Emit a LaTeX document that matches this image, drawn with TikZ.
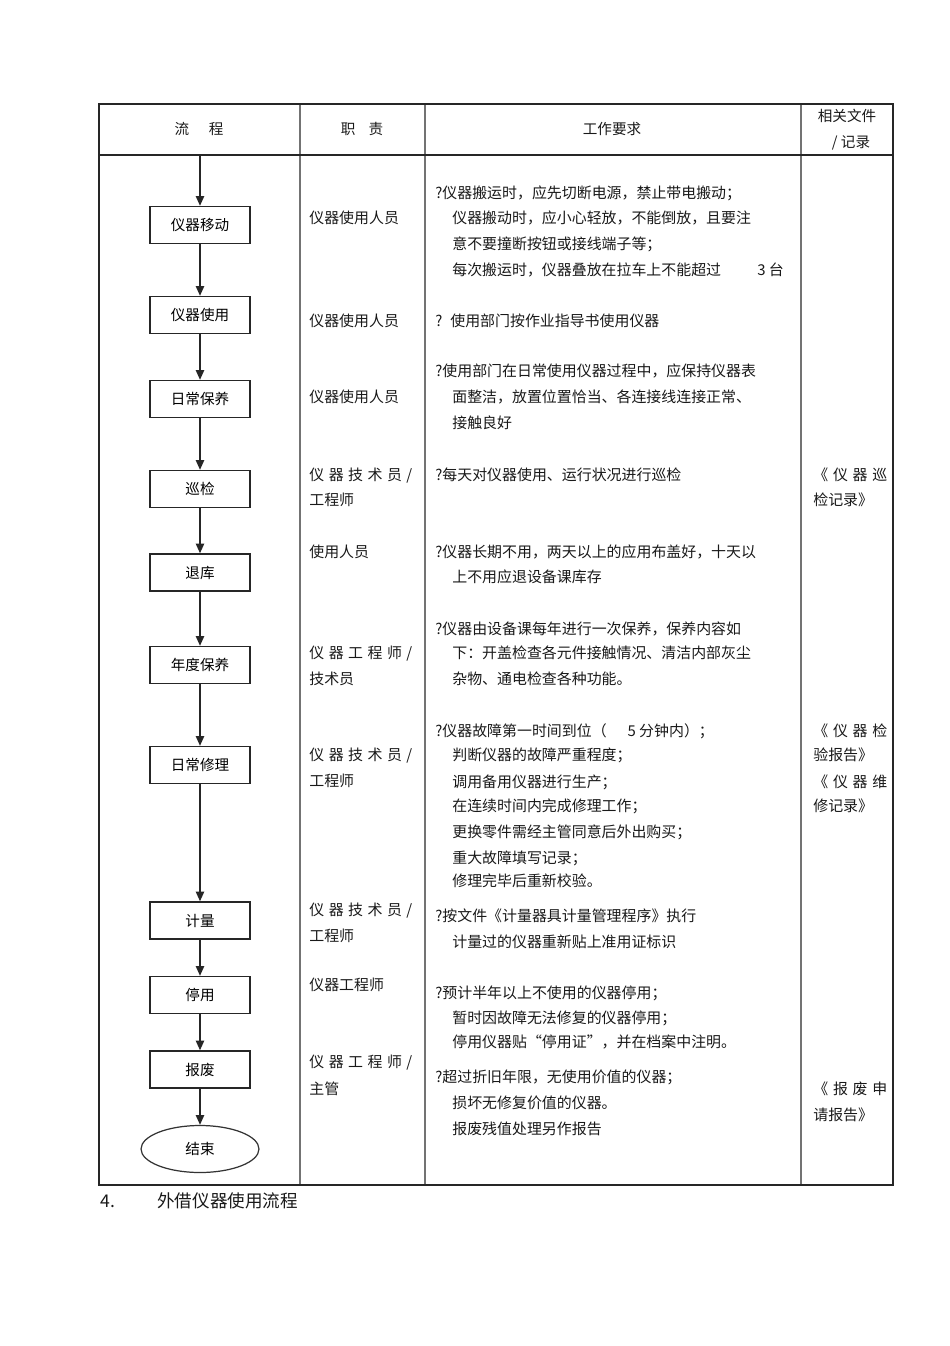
\documentclass[tikz,border=0pt]{standalone}
\usepackage{fontspec}
\setmainfont{Noto Sans CJK SC}
\usetikzlibrary{shapes.geometric, arrows.meta, positioning}
\tikzset{
    box_step/.style={
        rectangle, draw=black!85, line width=0.7pt, fill=white,
        minimum width=2.0cm, minimum height=0.74cm, inner sep=0pt,
        align=center, font=\fontsize{8.3}{10}\selectfont
    },
    box_end/.style={
        ellipse, draw=black!80, line width=0.7pt, fill=white,
        minimum width=2.36cm, minimum height=0.94cm, inner sep=0pt,
        align=center, font=\fontsize{8.3}{10}\selectfont
    },
    flow_arrow/.style={
        -{Triangle[length=5.5pt, width=4.6pt]}, draw=black!85, line width=1.0pt
    },
    grid_line/.style={
        draw=black!85, line width=0.75pt
    },
    grid_inner/.style={
        draw=black!55, line width=0.9pt
    },
    lbl/.style={
        anchor=west, inner sep=0pt, text height=1.6ex, text depth=0.4ex,
        font=\fontsize{8.5}{10}\selectfont, text=black!90
    },
    head_lbl/.style={
        inner sep=0pt, text height=1.6ex, text depth=0.4ex,
        font=\fontsize{8.3}{10}\selectfont, text=black!90
    }
}

\begin{document}
\begin{tikzpicture}[x=0.02cm, y=-0.02cm]
    \useasboundingbox (0,0) rectangle (950,1346);

    % Table frame
    \draw[grid_inner] (300,104) -- (300,1185);
    \draw[grid_inner] (425,104) -- (425,1185);
    \draw[grid_inner] (801,104) -- (801,1185);
    \draw[grid_line] (99,104) rectangle (893,1185);
    \draw[grid_line] (99,155) -- (893,155);

    % Header
    \node[head_lbl] (h_flow) at (199,129) {流\hspace{1.35em}程};
    \node[head_lbl] (h_duty) at (362,129) {职\hspace{0.9em}责};
    \node[head_lbl] (h_req) at (612,129) {工作要求};
    \node[head_lbl] (h_doc) at (847,116) {相关文件};
    \node[head_lbl] (h_rec) at (851,142) {/ 记录};

    % Flow column
    \coordinate (start) at (200,155);
    \node[box_step] (move) at (200,225) {仪器移动};
    \node[box_step] (use) at (200,315) {仪器使用};
    \node[box_step] (daily) at (200,399) {日常保养};
    \node[box_step] (patrol) at (200,489) {巡检};
    \node[box_step] (store) at (200,572.5) {退库};
    \node[box_step] (yearly) at (200,665) {年度保养};
    \node[box_step] (repair) at (200,765) {日常修理};
    \node[box_step] (metro) at (200,920.5) {计量};
    \node[box_step] (stop) at (200,995) {停用};
    \node[box_step] (scrap) at (200,1069.5) {报废};
    \node[box_end] (finish) at (200,1149) {结束};

    % Connectors
    \draw[flow_arrow] (start) -- (move);
    \draw[flow_arrow] (move) -- (use);
    \draw[flow_arrow] (use) -- (daily);
    \draw[flow_arrow] (daily) -- (patrol);
    \draw[flow_arrow] (patrol) -- (store);
    \draw[flow_arrow] (store) -- (yearly);
    \draw[flow_arrow] (yearly) -- (repair);
    \draw[flow_arrow] (repair) -- (metro);
    \draw[flow_arrow] (metro) -- (stop);
    \draw[flow_arrow] (stop) -- (scrap);
    \draw[flow_arrow] (scrap) -- (finish);

    % Duty column
    \node[lbl] (duty_move) at (309,218) {仪器使用人员};
    \node[lbl] (duty_use) at (309,321) {仪器使用人员};
    \node[lbl] (duty_daily) at (309,397) {仪器使用人员};
    \node[lbl] (duty_patrol_a) at (309,475) {\makebox[2.06cm][s]{仪 器 技 术 员 /}};
    \node[lbl] (duty_patrol_b) at (309,500) {工程师};
    \node[lbl] (duty_store) at (309,552) {使用人员};
    \node[lbl] (duty_yearly_a) at (309,653) {\makebox[2.06cm][s]{仪 器 工 程 师 /}};
    \node[lbl] (duty_yearly_b) at (309,679) {技术员};
    \node[lbl] (duty_repair_a) at (309,755) {\makebox[2.06cm][s]{仪 器 技 术 员 /}};
    \node[lbl] (duty_repair_b) at (309,781) {工程师};
    \node[lbl] (duty_metro_a) at (309,910) {\makebox[2.06cm][s]{仪 器 技 术 员 /}};
    \node[lbl] (duty_metro_b) at (309,936) {工程师};
    \node[lbl] (duty_stop) at (309,985) {仪器工程师};
    \node[lbl] (duty_scrap_a) at (309,1062) {\makebox[2.06cm][s]{仪 器 工 程 师 /}};
    \node[lbl] (duty_scrap_b) at (309,1089) {主管};

    % Requirement column
    \node[lbl] (req_move_a) at (435,193) {?仪器搬运时，应先切断电源，禁止带电搬动；};
    \node[lbl] (req_move_b) at (452,218) {仪器搬动时，应小心轻放，不能倒放，且要注};
    \node[lbl] (req_move_c) at (452,244) {意不要撞断按钮或接线端子等；};
    \node[lbl] (req_move_d) at (452,270) {每次搬运时，仪器叠放在拉车上不能超过};
    \node[lbl] (req_move_e) at (757,270) {3 台};
    \node[lbl] (req_use) at (435,321) {?\hspace{4.5pt}使用部门按作业指导书使用仪器};
    \node[lbl] (req_daily_a) at (435,371) {?使用部门在日常使用仪器过程中，应保持仪器表};
    \node[lbl] (req_daily_b) at (452,397) {面整洁，放置位置恰当、各连接线连接正常、};
    \node[lbl] (req_daily_c) at (452,423) {接触良好};
    \node[lbl] (req_patrol) at (435,475) {?每天对仪器使用、运行状况进行巡检};
    \node[lbl] (req_store_a) at (435,552) {?仪器长期不用，两天以上的应用布盖好，十天以};
    \node[lbl] (req_store_b) at (452,577) {上不用应退设备课库存};
    \node[lbl] (req_yearly_a) at (435,629) {?仪器由设备课每年进行一次保养，保养内容如};
    \node[lbl] (req_yearly_b) at (452,653) {下：开盖检查各元件接触情况、清洁内部灰尘};
    \node[lbl] (req_yearly_c) at (452,679) {杂物、通电检查各种功能。};
    \node[lbl] (req_repair_a) at (435,731) {?仪器故障第一时间到位（\hspace{1.4em}5 分钟内）；};
    \node[lbl] (req_repair_b) at (452,755) {判断仪器的故障严重程度；};
    \node[lbl] (req_repair_c) at (452,782) {调用备用仪器进行生产；};
    \node[lbl] (req_repair_d) at (452,806) {在连续时间内完成修理工作；};
    \node[lbl] (req_repair_e) at (452,832) {更换零件需经主管同意后外出购买；};
    \node[lbl] (req_repair_f) at (452,858) {重大故障填写记录；};
    \node[lbl] (req_repair_g) at (452,881) {修理完毕后重新校验。};
    \node[lbl] (req_metro_a) at (435,916) {?按文件《计量器具计量管理程序》执行};
    \node[lbl] (req_metro_b) at (452,942) {计量过的仪器重新贴上准用证标识};
    \node[lbl] (req_stop_a) at (435,993) {?预计半年以上不使用的仪器停用；};
    \node[lbl] (req_stop_b) at (452,1018) {暂时因故障无法修复的仪器停用；};
    \node[lbl] (req_stop_c) at (452,1042) {停用仪器贴“停用证”，并在档案中注明。};
    \node[lbl] (req_scrap_a) at (435,1077) {?超过折旧年限，无使用价值的仪器；};
    \node[lbl] (req_scrap_b) at (452,1103) {损坏无修复价值的仪器。};
    \node[lbl] (req_scrap_c) at (452,1129) {报废残值处理另作报告};

    % Record column
    \node[lbl] (doc_patrol_a) at (813,475) {\makebox[1.48cm][s]{《 仪 器 巡}};
    \node[lbl] (doc_patrol_b) at (813,500) {检记录》};
    \node[lbl] (doc_check_a) at (813,731) {\makebox[1.48cm][s]{《 仪 器 检}};
    \node[lbl] (doc_check_b) at (813,755) {验报告》};
    \node[lbl] (doc_fix_a) at (813,782) {\makebox[1.48cm][s]{《 仪 器 维}};
    \node[lbl] (doc_fix_b) at (813,806) {修记录》};
    \node[lbl] (doc_scrap_a) at (813,1089) {\makebox[1.48cm][s]{《 报 废 申}};
    \node[lbl] (doc_scrap_b) at (813,1115) {请报告》};

    % Next section title
    \node[lbl, font=\fontsize{10}{12}\selectfont] (sec_num) at (100,1202) {4.};
    \node[lbl, font=\fontsize{10}{12}\selectfont] (sec_title) at (157,1202) {外借仪器使用流程};
\end{tikzpicture}
\end{document}
